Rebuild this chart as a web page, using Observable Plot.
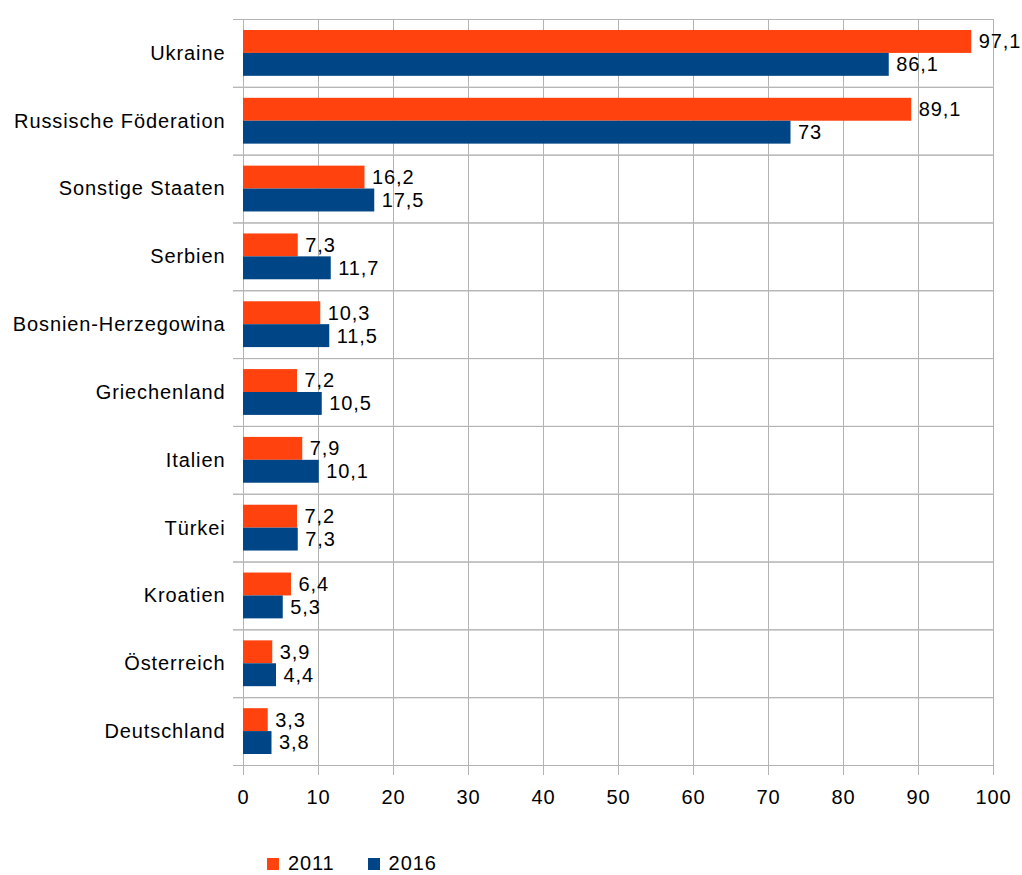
<!DOCTYPE html>
<html>
<head>
<meta charset="utf-8">
<script src="https://cdn.jsdelivr.net/npm/d3@7"></script>
<script src="https://cdn.jsdelivr.net/npm/@observablehq/plot@0.6"></script>
<style>
  html, body { margin: 0; padding: 0; background: #fff; }
  #legend { display: flex; font-family: "Liberation Sans", Arial, sans-serif; font-size: 20px; letter-spacing: 0.9px; padding-left: 267px; margin-top: 12px; }
  .item { display: flex; align-items: center; margin-right: 33px; }
  .sw { width: 12px; height: 12px; margin-right: 9px; }
</style>
</head>
<body>
<div id="chart"></div>
<div id="legend"></div>
<script>
const countries = ["Ukraine", "Russische Föderation", "Sonstige Staaten", "Serbien", "Bosnien-Herzegowina", "Griechenland", "Italien", "Türkei", "Kroatien", "Österreich", "Deutschland"];
const years = ["2011", "2016"];
const values2011 = [97.1, 89.1, 16.2, 7.3, 10.3, 7.2, 7.9, 7.2, 6.4, 3.9, 3.3];
const values2016 = [86.1, 73, 17.5, 11.7, 11.5, 10.5, 10.1, 7.3, 5.3, 4.4, 3.8];
const colors = ["#ff420e", "#004586"];
const xTicks = [0, 10, 20, 30, 40, 50, 60, 70, 80, 90, 100];

const data = [];
countries.forEach((c, i) => {
  data.push({country: c, year: years[0], value: values2011[i]});
  data.push({country: c, year: years[1], value: values2016[i]});
});
const fmt = v => String(v).replace(".", ",");
const gray = "#b3b3b3";

const chart = Plot.plot({
  width: 1022,
  height: 840,
  marginTop: 19,
  marginBottom: 75,
  marginLeft: 243,
  marginRight: 29,
  style: {fontFamily: "'Liberation Sans', Arial, sans-serif", fontSize: "20px", letterSpacing: "0.9px", overflow: "visible", color: "black"},
  x: {domain: [0, 100], axis: null},
  y: {domain: years, paddingInner: 0, paddingOuter: 0.48, round: false, axis: null},
  fy: {domain: countries, padding: 0, round: false, label: null, tickSize: 0, tickPadding: 18, axis: "left"},
  color: {domain: years, range: colors},
  marks: [
    Plot.gridX(xTicks, {stroke: gray, strokeOpacity: 1}),
    Plot.frame({anchor: "top", stroke: gray, insetLeft: -10}),
    Plot.frame({anchor: "bottom", stroke: gray, insetLeft: -10}),
    Plot.axisX(xTicks, {tickSize: 10, tickPadding: 14, stroke: gray, fill: "black", fontSize: 20, label: null}),
    Plot.barX(data, {x: "value", y: "year", fy: "country", fill: "year"}),
    Plot.text(data, {x: "value", y: "year", fy: "country", text: d => fmt(d.value), textAnchor: "start", dx: 7, fontSize: 20, fill: "black"})
  ]
});
document.getElementById("chart").appendChild(chart);

const legend = document.getElementById("legend");
years.forEach((y, i) => {
  const item = document.createElement("div");
  item.className = "item";
  const sw = document.createElement("div");
  sw.className = "sw";
  sw.style.background = colors[i];
  const t = document.createElement("span");
  t.textContent = y;
  item.appendChild(sw);
  item.appendChild(t);
  legend.appendChild(item);
});
</script>
</body>
</html>
